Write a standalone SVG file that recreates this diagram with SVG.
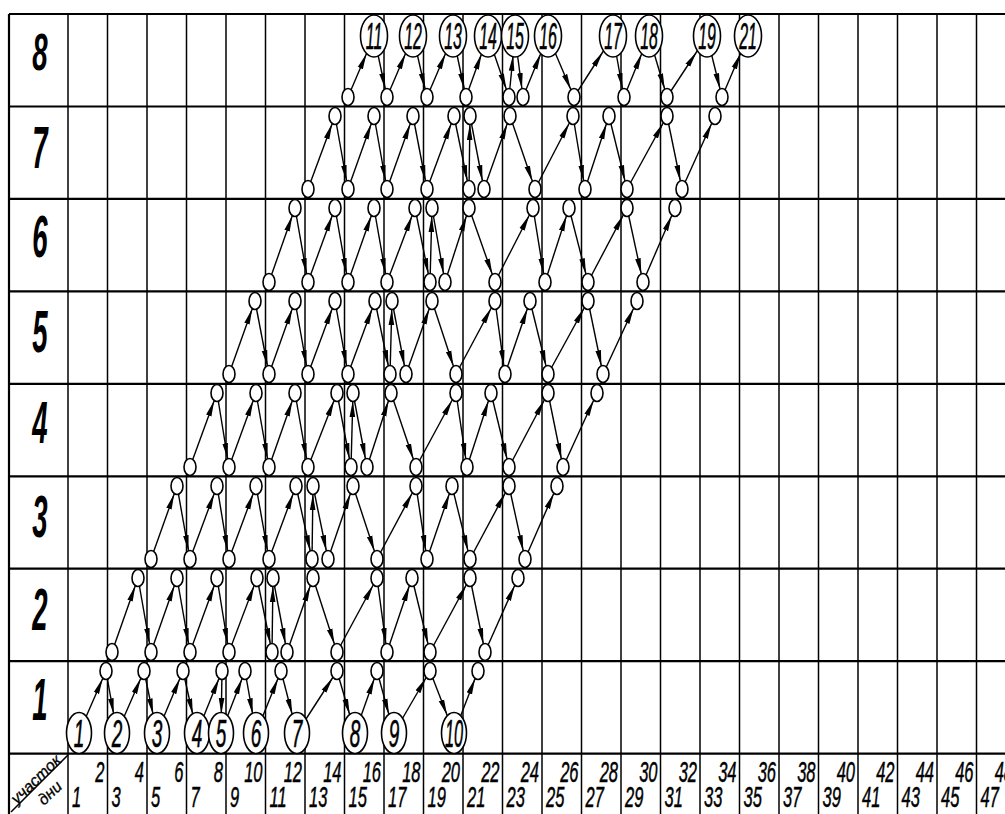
<svg xmlns="http://www.w3.org/2000/svg" xmlns:xlink="http://www.w3.org/1999/xlink" width="1005" height="814" viewBox="0 0 1005 814">
<style>
.bg{fill:#fff}
.gh{stroke:#000;stroke-width:2.2;fill:none}
.gv{stroke:#000;stroke-width:1.5;fill:none}
.a{stroke:#000;stroke-width:1.4;fill:none;marker-end:url(#ah)}
.ac{stroke:#000;stroke-width:1.4;fill:none;marker-end:url(#ahc)}
.nd{fill:#fff;stroke:#000;stroke-width:1.6}
.t{font-family:"Liberation Sans",Arial,sans-serif;font-style:italic;fill:#000}
.cl{font-size:37px;text-anchor:middle;stroke:#000;stroke-width:0.6}
.cs{font-size:38px;text-anchor:middle;stroke:#000;stroke-width:0.6}
.rl{font-size:60px;text-anchor:middle;font-weight:bold}
.dl{font-size:30px;stroke:#000;stroke-width:0.5}
.de{font-size:30px;text-anchor:end;stroke:#000;stroke-width:0.5}
.hd{font-size:16px;stroke:#000;stroke-width:0.3}
</style>
<defs>
<marker id="ah" viewBox="0 0 26 7" refX="24" refY="3.5" markerWidth="26" markerHeight="7" markerUnits="userSpaceOnUse" orient="auto"><path d="M0,0.7 L16,3.5 L0,6.3 Z" fill="#000"/></marker>
<marker id="ahc" viewBox="0 0 36 7" refX="35" refY="3.5" markerWidth="36" markerHeight="7" markerUnits="userSpaceOnUse" orient="auto"><path d="M0,0.7 L16,3.5 L0,6.3 Z" fill="#000"/></marker>
<ellipse id="sn" class="nd" cx="0" cy="0" rx="6" ry="8.5"/>
<ellipse id="bc" class="nd" cx="0" cy="0" rx="12.5" ry="20.5"/>
<ellipse id="tc" class="nd" cx="0" cy="0" rx="13.5" ry="21"/>
</defs>
<rect class="bg" x="0" y="0" width="1005" height="814"/>
<g id="grid">
<line class="gh" x1="9" y1="14" x2="1005" y2="14"/>
<line class="gh" x1="9" y1="106.5" x2="1005" y2="106.5"/>
<line class="gh" x1="9" y1="198.9" x2="1005" y2="198.9"/>
<line class="gh" x1="9" y1="291.4" x2="1005" y2="291.4"/>
<line class="gh" x1="9" y1="383.8" x2="1005" y2="383.8"/>
<line class="gh" x1="9" y1="476.3" x2="1005" y2="476.3"/>
<line class="gh" x1="9" y1="568.7" x2="1005" y2="568.7"/>
<line class="gh" x1="9" y1="661.2" x2="1005" y2="661.2"/>
<line class="gh" x1="9" y1="753.6" x2="1005" y2="753.6"/>
<line class="gh" x1="9" y1="14" x2="9" y2="814"/>
<line class="gv" x1="68" y1="14" x2="68" y2="814"/>
<line class="gv" x1="107.5" y1="14" x2="107.5" y2="814"/>
<line class="gv" x1="147" y1="14" x2="147" y2="814"/>
<line class="gv" x1="186.5" y1="14" x2="186.5" y2="814"/>
<line class="gv" x1="226" y1="14" x2="226" y2="814"/>
<line class="gv" x1="265.5" y1="14" x2="265.5" y2="814"/>
<line class="gv" x1="305" y1="14" x2="305" y2="814"/>
<line class="gv" x1="344.5" y1="14" x2="344.5" y2="814"/>
<line class="gv" x1="384" y1="14" x2="384" y2="814"/>
<line class="gv" x1="423.5" y1="14" x2="423.5" y2="814"/>
<line class="gv" x1="463" y1="14" x2="463" y2="814"/>
<line class="gv" x1="502.5" y1="14" x2="502.5" y2="814"/>
<line class="gv" x1="542" y1="14" x2="542" y2="814"/>
<line class="gv" x1="581.5" y1="14" x2="581.5" y2="814"/>
<line class="gv" x1="621" y1="14" x2="621" y2="814"/>
<line class="gv" x1="660.5" y1="14" x2="660.5" y2="814"/>
<line class="gv" x1="700" y1="14" x2="700" y2="814"/>
<line class="gv" x1="739.5" y1="14" x2="739.5" y2="814"/>
<line class="gv" x1="779" y1="14" x2="779" y2="814"/>
<line class="gv" x1="818.5" y1="14" x2="818.5" y2="814"/>
<line class="gv" x1="858" y1="14" x2="858" y2="814"/>
<line class="gv" x1="897.5" y1="14" x2="897.5" y2="814"/>
<line class="gv" x1="937" y1="14" x2="937" y2="814"/>
<line class="gv" x1="976.5" y1="14" x2="976.5" y2="814"/>
<line class="gv" x1="11" y1="812" x2="68" y2="755"/>
</g>
<g id="labels">
<text class="t rl" transform="translate(40,70) scale(0.46,0.85)">8</text>
<text class="t rl" transform="translate(40,168) scale(0.46,1)">7</text>
<text class="t rl" transform="translate(40,257) scale(0.46,1)">6</text>
<text class="t rl" transform="translate(40,352) scale(0.46,1)">5</text>
<text class="t rl" transform="translate(40,443) scale(0.46,1)">4</text>
<text class="t rl" transform="translate(40,537) scale(0.46,1)">3</text>
<text class="t rl" transform="translate(40,630) scale(0.46,1)">2</text>
<text class="t rl" transform="translate(40,720) scale(0.46,1)">1</text>
<text class="t hd" transform="translate(17,805) rotate(-44)">участок</text>
<text class="t hd" transform="translate(44,806) rotate(-44)" font-size="18">дни</text>
<text class="t dl" transform="translate(72,807) scale(0.55,1)">1</text>
<text class="t dl" transform="translate(111.5,807) scale(0.55,1)">3</text>
<text class="t dl" transform="translate(151,807) scale(0.55,1)">5</text>
<text class="t dl" transform="translate(190.5,807) scale(0.55,1)">7</text>
<text class="t dl" transform="translate(230,807) scale(0.55,1)">9</text>
<text class="t dl" transform="translate(269.5,807) scale(0.55,1)">11</text>
<text class="t dl" transform="translate(309,807) scale(0.55,1)">13</text>
<text class="t dl" transform="translate(348.5,807) scale(0.55,1)">15</text>
<text class="t dl" transform="translate(388,807) scale(0.55,1)">17</text>
<text class="t dl" transform="translate(427.5,807) scale(0.55,1)">19</text>
<text class="t dl" transform="translate(467,807) scale(0.55,1)">21</text>
<text class="t dl" transform="translate(506.5,807) scale(0.55,1)">23</text>
<text class="t dl" transform="translate(546,807) scale(0.55,1)">25</text>
<text class="t dl" transform="translate(585.5,807) scale(0.55,1)">27</text>
<text class="t dl" transform="translate(625,807) scale(0.55,1)">29</text>
<text class="t dl" transform="translate(664.5,807) scale(0.55,1)">31</text>
<text class="t dl" transform="translate(704,807) scale(0.55,1)">33</text>
<text class="t dl" transform="translate(743.5,807) scale(0.55,1)">35</text>
<text class="t dl" transform="translate(783,807) scale(0.55,1)">37</text>
<text class="t dl" transform="translate(822.5,807) scale(0.55,1)">39</text>
<text class="t dl" transform="translate(862,807) scale(0.55,1)">41</text>
<text class="t dl" transform="translate(901.5,807) scale(0.55,1)">43</text>
<text class="t dl" transform="translate(941,807) scale(0.55,1)">45</text>
<text class="t dl" transform="translate(980.5,807) scale(0.55,1)">47</text>
<text class="t de" transform="translate(104.5,782) scale(0.55,1)">2</text>
<text class="t de" transform="translate(144,782) scale(0.55,1)">4</text>
<text class="t de" transform="translate(183.5,782) scale(0.55,1)">6</text>
<text class="t de" transform="translate(223,782) scale(0.55,1)">8</text>
<text class="t de" transform="translate(262.5,782) scale(0.55,1)">10</text>
<text class="t de" transform="translate(302,782) scale(0.55,1)">12</text>
<text class="t de" transform="translate(341.5,782) scale(0.55,1)">14</text>
<text class="t de" transform="translate(381,782) scale(0.55,1)">16</text>
<text class="t de" transform="translate(420.5,782) scale(0.55,1)">18</text>
<text class="t de" transform="translate(460,782) scale(0.55,1)">20</text>
<text class="t de" transform="translate(499.5,782) scale(0.55,1)">22</text>
<text class="t de" transform="translate(539,782) scale(0.55,1)">24</text>
<text class="t de" transform="translate(578.5,782) scale(0.55,1)">26</text>
<text class="t de" transform="translate(618,782) scale(0.55,1)">28</text>
<text class="t de" transform="translate(657.5,782) scale(0.55,1)">30</text>
<text class="t de" transform="translate(697,782) scale(0.55,1)">32</text>
<text class="t de" transform="translate(736.5,782) scale(0.55,1)">34</text>
<text class="t de" transform="translate(776,782) scale(0.55,1)">36</text>
<text class="t de" transform="translate(815.5,782) scale(0.55,1)">38</text>
<text class="t de" transform="translate(855,782) scale(0.55,1)">40</text>
<text class="t de" transform="translate(894.5,782) scale(0.55,1)">42</text>
<text class="t de" transform="translate(934,782) scale(0.55,1)">44</text>
<text class="t de" transform="translate(973.5,782) scale(0.55,1)">46</text>
<text class="t de" transform="translate(1013,782) scale(0.55,1)">48</text>
</g>
<g id="connectors">
<line class="a" x1="79" y1="733" x2="106" y2="671"/>
<line class="a" x1="117" y1="733" x2="144" y2="671"/>
<line class="a" x1="157" y1="733" x2="183" y2="671"/>
<line class="a" x1="197" y1="733" x2="222" y2="671"/>
<line class="a" x1="221" y1="733" x2="245" y2="671"/>
<line class="a" x1="256" y1="733" x2="281" y2="671"/>
<line class="a" x1="297" y1="733" x2="337" y2="671"/>
<line class="a" x1="355" y1="733" x2="377" y2="671"/>
<line class="a" x1="394" y1="733" x2="430" y2="671"/>
<line class="a" x1="454" y1="733" x2="478" y2="671"/>
<line class="ac" x1="106" y1="671" x2="117" y2="733"/>
<line class="ac" x1="144" y1="671" x2="157" y2="733"/>
<line class="ac" x1="183" y1="671" x2="197" y2="733"/>
<line class="ac" x1="222" y1="671" x2="221" y2="733"/>
<line class="ac" x1="245" y1="671" x2="256" y2="733"/>
<line class="ac" x1="281" y1="671" x2="297" y2="733"/>
<line class="ac" x1="337" y1="671" x2="355" y2="733"/>
<line class="ac" x1="377" y1="671" x2="394" y2="733"/>
<line class="ac" x1="430" y1="671" x2="454" y2="733"/>
<line class="a" x1="112" y1="652" x2="138" y2="578"/>
<line class="a" x1="151" y1="652" x2="177" y2="578"/>
<line class="a" x1="190" y1="652" x2="217" y2="578"/>
<line class="a" x1="229" y1="652" x2="257" y2="578"/>
<line class="a" x1="272" y1="652" x2="273" y2="578"/>
<line class="a" x1="287" y1="652" x2="313" y2="578"/>
<line class="a" x1="337" y1="652" x2="377" y2="578"/>
<line class="a" x1="387" y1="652" x2="412" y2="578"/>
<line class="a" x1="430" y1="652" x2="470" y2="578"/>
<line class="a" x1="485" y1="652" x2="518" y2="578"/>
<line class="a" x1="138" y1="578" x2="151" y2="652"/>
<line class="a" x1="177" y1="578" x2="190" y2="652"/>
<line class="a" x1="217" y1="578" x2="229" y2="652"/>
<line class="a" x1="257" y1="578" x2="272" y2="652"/>
<line class="a" x1="273" y1="578" x2="287" y2="652"/>
<line class="a" x1="313" y1="578" x2="337" y2="652"/>
<line class="a" x1="377" y1="578" x2="387" y2="652"/>
<line class="a" x1="412" y1="578" x2="430" y2="652"/>
<line class="a" x1="470" y1="578" x2="485" y2="652"/>
<line class="a" x1="151" y1="559" x2="177" y2="486"/>
<line class="a" x1="190" y1="559" x2="217" y2="486"/>
<line class="a" x1="229" y1="559" x2="256" y2="486"/>
<line class="a" x1="269" y1="559" x2="296" y2="486"/>
<line class="a" x1="312" y1="559" x2="313" y2="486"/>
<line class="a" x1="328" y1="559" x2="353" y2="486"/>
<line class="a" x1="377" y1="559" x2="416" y2="486"/>
<line class="a" x1="427" y1="559" x2="452" y2="486"/>
<line class="a" x1="470" y1="559" x2="509" y2="486"/>
<line class="a" x1="525" y1="559" x2="557" y2="486"/>
<line class="a" x1="177" y1="486" x2="190" y2="559"/>
<line class="a" x1="217" y1="486" x2="229" y2="559"/>
<line class="a" x1="256" y1="486" x2="269" y2="559"/>
<line class="a" x1="296" y1="486" x2="312" y2="559"/>
<line class="a" x1="313" y1="486" x2="328" y2="559"/>
<line class="a" x1="353" y1="486" x2="377" y2="559"/>
<line class="a" x1="416" y1="486" x2="427" y2="559"/>
<line class="a" x1="452" y1="486" x2="470" y2="559"/>
<line class="a" x1="509" y1="486" x2="525" y2="559"/>
<line class="a" x1="190" y1="467" x2="217" y2="393"/>
<line class="a" x1="229" y1="467" x2="256" y2="393"/>
<line class="a" x1="269" y1="467" x2="295" y2="393"/>
<line class="a" x1="308" y1="467" x2="337" y2="393"/>
<line class="a" x1="351" y1="467" x2="353" y2="393"/>
<line class="a" x1="367" y1="467" x2="391" y2="393"/>
<line class="a" x1="416" y1="467" x2="456" y2="393"/>
<line class="a" x1="467" y1="467" x2="491" y2="393"/>
<line class="a" x1="509" y1="467" x2="548" y2="393"/>
<line class="a" x1="563" y1="467" x2="597" y2="393"/>
<line class="a" x1="217" y1="393" x2="229" y2="467"/>
<line class="a" x1="256" y1="393" x2="269" y2="467"/>
<line class="a" x1="295" y1="393" x2="308" y2="467"/>
<line class="a" x1="337" y1="393" x2="351" y2="467"/>
<line class="a" x1="353" y1="393" x2="367" y2="467"/>
<line class="a" x1="391" y1="393" x2="416" y2="467"/>
<line class="a" x1="456" y1="393" x2="467" y2="467"/>
<line class="a" x1="491" y1="393" x2="509" y2="467"/>
<line class="a" x1="548" y1="393" x2="563" y2="467"/>
<line class="a" x1="229" y1="374" x2="255" y2="301"/>
<line class="a" x1="269" y1="374" x2="295" y2="301"/>
<line class="a" x1="308" y1="374" x2="335" y2="301"/>
<line class="a" x1="348" y1="374" x2="375" y2="301"/>
<line class="a" x1="390" y1="374" x2="392" y2="301"/>
<line class="a" x1="406" y1="374" x2="432" y2="301"/>
<line class="a" x1="456" y1="374" x2="495" y2="301"/>
<line class="a" x1="505" y1="374" x2="530" y2="301"/>
<line class="a" x1="548" y1="374" x2="588" y2="301"/>
<line class="a" x1="603" y1="374" x2="637" y2="301"/>
<line class="a" x1="255" y1="301" x2="269" y2="374"/>
<line class="a" x1="295" y1="301" x2="308" y2="374"/>
<line class="a" x1="335" y1="301" x2="348" y2="374"/>
<line class="a" x1="375" y1="301" x2="390" y2="374"/>
<line class="a" x1="392" y1="301" x2="406" y2="374"/>
<line class="a" x1="432" y1="301" x2="456" y2="374"/>
<line class="a" x1="495" y1="301" x2="505" y2="374"/>
<line class="a" x1="530" y1="301" x2="548" y2="374"/>
<line class="a" x1="588" y1="301" x2="603" y2="374"/>
<line class="a" x1="269" y1="282" x2="295" y2="208"/>
<line class="a" x1="308" y1="282" x2="335" y2="208"/>
<line class="a" x1="348" y1="282" x2="374" y2="208"/>
<line class="a" x1="387" y1="282" x2="415" y2="208"/>
<line class="a" x1="430" y1="282" x2="432" y2="208"/>
<line class="a" x1="445" y1="282" x2="469" y2="208"/>
<line class="a" x1="495" y1="282" x2="533" y2="208"/>
<line class="a" x1="545" y1="282" x2="569" y2="208"/>
<line class="a" x1="588" y1="282" x2="627" y2="208"/>
<line class="a" x1="643" y1="282" x2="675" y2="208"/>
<line class="a" x1="295" y1="208" x2="308" y2="282"/>
<line class="a" x1="335" y1="208" x2="348" y2="282"/>
<line class="a" x1="374" y1="208" x2="387" y2="282"/>
<line class="a" x1="415" y1="208" x2="430" y2="282"/>
<line class="a" x1="432" y1="208" x2="445" y2="282"/>
<line class="a" x1="469" y1="208" x2="495" y2="282"/>
<line class="a" x1="533" y1="208" x2="545" y2="282"/>
<line class="a" x1="569" y1="208" x2="588" y2="282"/>
<line class="a" x1="627" y1="208" x2="643" y2="282"/>
<line class="a" x1="308" y1="189" x2="335" y2="116"/>
<line class="a" x1="348" y1="189" x2="374" y2="116"/>
<line class="a" x1="387" y1="189" x2="413" y2="116"/>
<line class="a" x1="427" y1="189" x2="454" y2="116"/>
<line class="a" x1="469" y1="189" x2="470" y2="116"/>
<line class="a" x1="484" y1="189" x2="510" y2="116"/>
<line class="a" x1="535" y1="189" x2="573" y2="116"/>
<line class="a" x1="585" y1="189" x2="609" y2="116"/>
<line class="a" x1="627" y1="189" x2="667" y2="116"/>
<line class="a" x1="682" y1="189" x2="715" y2="116"/>
<line class="a" x1="335" y1="116" x2="348" y2="189"/>
<line class="a" x1="374" y1="116" x2="387" y2="189"/>
<line class="a" x1="413" y1="116" x2="427" y2="189"/>
<line class="a" x1="454" y1="116" x2="469" y2="189"/>
<line class="a" x1="470" y1="116" x2="484" y2="189"/>
<line class="a" x1="510" y1="116" x2="535" y2="189"/>
<line class="a" x1="573" y1="116" x2="585" y2="189"/>
<line class="a" x1="609" y1="116" x2="627" y2="189"/>
<line class="a" x1="667" y1="116" x2="682" y2="189"/>
<line class="ac" x1="348" y1="97" x2="374" y2="36"/>
<line class="ac" x1="387" y1="97" x2="413" y2="36"/>
<line class="ac" x1="427" y1="97" x2="453" y2="36"/>
<line class="ac" x1="466" y1="97" x2="488" y2="36"/>
<line class="ac" x1="509" y1="97" x2="515" y2="36"/>
<line class="ac" x1="523" y1="97" x2="548" y2="36"/>
<line class="ac" x1="574" y1="97" x2="613" y2="36"/>
<line class="ac" x1="624" y1="97" x2="649" y2="36"/>
<line class="ac" x1="667" y1="97" x2="707" y2="36"/>
<line class="ac" x1="722" y1="97" x2="748" y2="36"/>
<line class="a" x1="374" y1="36" x2="387" y2="97"/>
<line class="a" x1="413" y1="36" x2="427" y2="97"/>
<line class="a" x1="453" y1="36" x2="466" y2="97"/>
<line class="a" x1="488" y1="36" x2="509" y2="97"/>
<line class="a" x1="515" y1="36" x2="523" y2="97"/>
<line class="a" x1="548" y1="36" x2="574" y2="97"/>
<line class="a" x1="613" y1="36" x2="624" y2="97"/>
<line class="a" x1="649" y1="36" x2="667" y2="97"/>
<line class="a" x1="707" y1="36" x2="722" y2="97"/>
</g>
<g id="r1t0"><use href="#sn" x="106" y="671"/></g><g id="r1t1"><use href="#sn" x="144" y="671"/></g><g id="r1t2"><use href="#sn" x="183" y="671"/></g><g id="r1t3"><use href="#sn" x="222" y="671"/></g><g id="r1t4"><use href="#sn" x="245" y="671"/></g><g id="r1t5"><use href="#sn" x="281" y="671"/></g><g id="r1t6"><use href="#sn" x="337" y="671"/></g><g id="r1t7"><use href="#sn" x="377" y="671"/></g><g id="r1t8"><use href="#sn" x="430" y="671"/></g><g id="r1t9"><use href="#sn" x="478" y="671"/></g>
<g id="r2b0"><use href="#sn" x="112" y="652"/></g><g id="r2b1"><use href="#sn" x="151" y="652"/></g><g id="r2b2"><use href="#sn" x="190" y="652"/></g><g id="r2b3"><use href="#sn" x="229" y="652"/></g><g id="r2b4"><use href="#sn" x="272" y="652"/></g><g id="r2b5"><use href="#sn" x="287" y="652"/></g><g id="r2b6"><use href="#sn" x="337" y="652"/></g><g id="r2b7"><use href="#sn" x="387" y="652"/></g><g id="r2b8"><use href="#sn" x="430" y="652"/></g><g id="r2b9"><use href="#sn" x="485" y="652"/></g>
<g id="r2t0"><use href="#sn" x="138" y="578"/></g><g id="r2t1"><use href="#sn" x="177" y="578"/></g><g id="r2t2"><use href="#sn" x="217" y="578"/></g><g id="r2t3"><use href="#sn" x="257" y="578"/></g><g id="r2t4"><use href="#sn" x="273" y="578"/></g><g id="r2t5"><use href="#sn" x="313" y="578"/></g><g id="r2t6"><use href="#sn" x="377" y="578"/></g><g id="r2t7"><use href="#sn" x="412" y="578"/></g><g id="r2t8"><use href="#sn" x="470" y="578"/></g><g id="r2t9"><use href="#sn" x="518" y="578"/></g>
<g id="r3b0"><use href="#sn" x="151" y="559"/></g><g id="r3b1"><use href="#sn" x="190" y="559"/></g><g id="r3b2"><use href="#sn" x="229" y="559"/></g><g id="r3b3"><use href="#sn" x="269" y="559"/></g><g id="r3b4"><use href="#sn" x="312" y="559"/></g><g id="r3b5"><use href="#sn" x="328" y="559"/></g><g id="r3b6"><use href="#sn" x="377" y="559"/></g><g id="r3b7"><use href="#sn" x="427" y="559"/></g><g id="r3b8"><use href="#sn" x="470" y="559"/></g><g id="r3b9"><use href="#sn" x="525" y="559"/></g>
<g id="r3t0"><use href="#sn" x="177" y="486"/></g><g id="r3t1"><use href="#sn" x="217" y="486"/></g><g id="r3t2"><use href="#sn" x="256" y="486"/></g><g id="r3t3"><use href="#sn" x="296" y="486"/></g><g id="r3t4"><use href="#sn" x="313" y="486"/></g><g id="r3t5"><use href="#sn" x="353" y="486"/></g><g id="r3t6"><use href="#sn" x="416" y="486"/></g><g id="r3t7"><use href="#sn" x="452" y="486"/></g><g id="r3t8"><use href="#sn" x="509" y="486"/></g><g id="r3t9"><use href="#sn" x="557" y="486"/></g>
<g id="r4b0"><use href="#sn" x="190" y="467"/></g><g id="r4b1"><use href="#sn" x="229" y="467"/></g><g id="r4b2"><use href="#sn" x="269" y="467"/></g><g id="r4b3"><use href="#sn" x="308" y="467"/></g><g id="r4b4"><use href="#sn" x="351" y="467"/></g><g id="r4b5"><use href="#sn" x="367" y="467"/></g><g id="r4b6"><use href="#sn" x="416" y="467"/></g><g id="r4b7"><use href="#sn" x="467" y="467"/></g><g id="r4b8"><use href="#sn" x="509" y="467"/></g><g id="r4b9"><use href="#sn" x="563" y="467"/></g>
<g id="r4t0"><use href="#sn" x="217" y="393"/></g><g id="r4t1"><use href="#sn" x="256" y="393"/></g><g id="r4t2"><use href="#sn" x="295" y="393"/></g><g id="r4t3"><use href="#sn" x="337" y="393"/></g><g id="r4t4"><use href="#sn" x="353" y="393"/></g><g id="r4t5"><use href="#sn" x="391" y="393"/></g><g id="r4t6"><use href="#sn" x="456" y="393"/></g><g id="r4t7"><use href="#sn" x="491" y="393"/></g><g id="r4t8"><use href="#sn" x="548" y="393"/></g><g id="r4t9"><use href="#sn" x="597" y="393"/></g>
<g id="r5b0"><use href="#sn" x="229" y="374"/></g><g id="r5b1"><use href="#sn" x="269" y="374"/></g><g id="r5b2"><use href="#sn" x="308" y="374"/></g><g id="r5b3"><use href="#sn" x="348" y="374"/></g><g id="r5b4"><use href="#sn" x="390" y="374"/></g><g id="r5b5"><use href="#sn" x="406" y="374"/></g><g id="r5b6"><use href="#sn" x="456" y="374"/></g><g id="r5b7"><use href="#sn" x="505" y="374"/></g><g id="r5b8"><use href="#sn" x="548" y="374"/></g><g id="r5b9"><use href="#sn" x="603" y="374"/></g>
<g id="r5t0"><use href="#sn" x="255" y="301"/></g><g id="r5t1"><use href="#sn" x="295" y="301"/></g><g id="r5t2"><use href="#sn" x="335" y="301"/></g><g id="r5t3"><use href="#sn" x="375" y="301"/></g><g id="r5t4"><use href="#sn" x="392" y="301"/></g><g id="r5t5"><use href="#sn" x="432" y="301"/></g><g id="r5t6"><use href="#sn" x="495" y="301"/></g><g id="r5t7"><use href="#sn" x="530" y="301"/></g><g id="r5t8"><use href="#sn" x="588" y="301"/></g><g id="r5t9"><use href="#sn" x="637" y="301"/></g>
<g id="r6b0"><use href="#sn" x="269" y="282"/></g><g id="r6b1"><use href="#sn" x="308" y="282"/></g><g id="r6b2"><use href="#sn" x="348" y="282"/></g><g id="r6b3"><use href="#sn" x="387" y="282"/></g><g id="r6b4"><use href="#sn" x="430" y="282"/></g><g id="r6b5"><use href="#sn" x="445" y="282"/></g><g id="r6b6"><use href="#sn" x="495" y="282"/></g><g id="r6b7"><use href="#sn" x="545" y="282"/></g><g id="r6b8"><use href="#sn" x="588" y="282"/></g><g id="r6b9"><use href="#sn" x="643" y="282"/></g>
<g id="r6t0"><use href="#sn" x="295" y="208"/></g><g id="r6t1"><use href="#sn" x="335" y="208"/></g><g id="r6t2"><use href="#sn" x="374" y="208"/></g><g id="r6t3"><use href="#sn" x="415" y="208"/></g><g id="r6t4"><use href="#sn" x="432" y="208"/></g><g id="r6t5"><use href="#sn" x="469" y="208"/></g><g id="r6t6"><use href="#sn" x="533" y="208"/></g><g id="r6t7"><use href="#sn" x="569" y="208"/></g><g id="r6t8"><use href="#sn" x="627" y="208"/></g><g id="r6t9"><use href="#sn" x="675" y="208"/></g>
<g id="r7b0"><use href="#sn" x="308" y="189"/></g><g id="r7b1"><use href="#sn" x="348" y="189"/></g><g id="r7b2"><use href="#sn" x="387" y="189"/></g><g id="r7b3"><use href="#sn" x="427" y="189"/></g><g id="r7b4"><use href="#sn" x="469" y="189"/></g><g id="r7b5"><use href="#sn" x="484" y="189"/></g><g id="r7b6"><use href="#sn" x="535" y="189"/></g><g id="r7b7"><use href="#sn" x="585" y="189"/></g><g id="r7b8"><use href="#sn" x="627" y="189"/></g><g id="r7b9"><use href="#sn" x="682" y="189"/></g>
<g id="r7t0"><use href="#sn" x="335" y="116"/></g><g id="r7t1"><use href="#sn" x="374" y="116"/></g><g id="r7t2"><use href="#sn" x="413" y="116"/></g><g id="r7t3"><use href="#sn" x="454" y="116"/></g><g id="r7t4"><use href="#sn" x="470" y="116"/></g><g id="r7t5"><use href="#sn" x="510" y="116"/></g><g id="r7t6"><use href="#sn" x="573" y="116"/></g><g id="r7t7"><use href="#sn" x="609" y="116"/></g><g id="r7t8"><use href="#sn" x="667" y="116"/></g><g id="r7t9"><use href="#sn" x="715" y="116"/></g>
<g id="r8b0"><use href="#sn" x="348" y="97"/></g><g id="r8b1"><use href="#sn" x="387" y="97"/></g><g id="r8b2"><use href="#sn" x="427" y="97"/></g><g id="r8b3"><use href="#sn" x="466" y="97"/></g><g id="r8b4"><use href="#sn" x="509" y="97"/></g><g id="r8b5"><use href="#sn" x="523" y="97"/></g><g id="r8b6"><use href="#sn" x="574" y="97"/></g><g id="r8b7"><use href="#sn" x="624" y="97"/></g><g id="r8b8"><use href="#sn" x="667" y="97"/></g><g id="r8b9"><use href="#sn" x="722" y="97"/></g>
<g id="c1"><use href="#bc" x="79" y="733"/><text class="t cs" transform="translate(79,746.5) scale(0.5,1)">1</text></g>
<g id="c2"><use href="#bc" x="117" y="733"/><text class="t cs" transform="translate(117,746.5) scale(0.5,1)">2</text></g>
<g id="c3"><use href="#bc" x="157" y="733"/><text class="t cs" transform="translate(157,746.5) scale(0.5,1)">3</text></g>
<g id="c4"><use href="#bc" x="197" y="733"/><text class="t cs" transform="translate(197,746.5) scale(0.5,1)">4</text></g>
<g id="c5"><use href="#bc" x="221" y="733"/><text class="t cs" transform="translate(221,746.5) scale(0.5,1)">5</text></g>
<g id="c6"><use href="#bc" x="256" y="733"/><text class="t cs" transform="translate(256,746.5) scale(0.5,1)">6</text></g>
<g id="c7"><use href="#bc" x="297" y="733"/><text class="t cs" transform="translate(297,746.5) scale(0.5,1)">7</text></g>
<g id="c8"><use href="#bc" x="355" y="733"/><text class="t cs" transform="translate(355,746.5) scale(0.5,1)">8</text></g>
<g id="c9"><use href="#bc" x="394" y="733"/><text class="t cs" transform="translate(394,746.5) scale(0.5,1)">9</text></g>
<g id="c10"><use href="#bc" x="454" y="733"/><text class="t cs" transform="translate(454,746.5) scale(0.43,1)">10</text></g>
<g id="c11"><use href="#tc" x="374" y="36"/><text class="t cl" transform="translate(374,49) scale(0.43,1)">11</text></g>
<g id="c12"><use href="#tc" x="413" y="36"/><text class="t cl" transform="translate(413,49) scale(0.43,1)">12</text></g>
<g id="c13"><use href="#tc" x="453" y="36"/><text class="t cl" transform="translate(453,49) scale(0.43,1)">13</text></g>
<g id="c14"><use href="#tc" x="488" y="36"/><text class="t cl" transform="translate(488,49) scale(0.43,1)">14</text></g>
<g id="c15"><use href="#tc" x="515" y="36"/><text class="t cl" transform="translate(515,49) scale(0.43,1)">15</text></g>
<g id="c16"><use href="#tc" x="548" y="36"/><text class="t cl" transform="translate(548,49) scale(0.43,1)">16</text></g>
<g id="c17"><use href="#tc" x="613" y="36"/><text class="t cl" transform="translate(613,49) scale(0.43,1)">17</text></g>
<g id="c18"><use href="#tc" x="649" y="36"/><text class="t cl" transform="translate(649,49) scale(0.43,1)">18</text></g>
<g id="c19"><use href="#tc" x="707" y="36"/><text class="t cl" transform="translate(707,49) scale(0.43,1)">19</text></g>
<g id="c21"><use href="#tc" x="748" y="36"/><text class="t cl" transform="translate(748,49) scale(0.43,1)">21</text></g>
</svg>
